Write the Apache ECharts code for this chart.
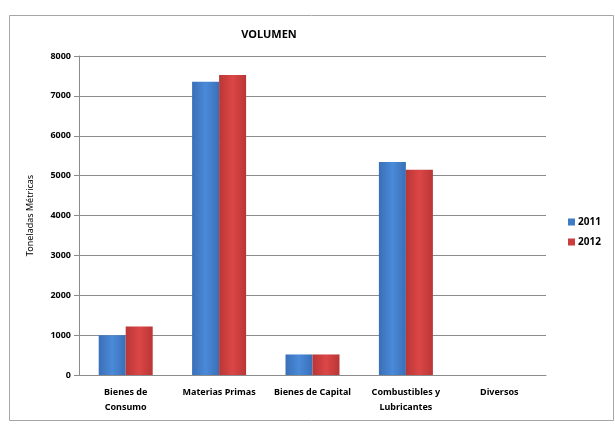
<!DOCTYPE html>
<html>
<head>
<meta charset="utf-8">
<script src="https://cdn.jsdelivr.net/npm/echarts@6/dist/echarts.min.js"></script>
<style>
html, body { margin: 0; padding: 0; background: #fff; }
#res { width: 615px; height: 426px; }
</style>
</head>
<body>
<div id="res"></div>
<script>
// datos
var categorias = ['Bienes de\nConsumo', 'Materias Primas', 'Bienes de Capital', 'Combustibles y\nLubricantes', 'Diversos'];
var v2011 = [1000, 7355, 515, 5340, 0];
var v2012 = [1215, 7525, 515, 5150, 0];
var yTicks = [0, 1000, 2000, 3000, 4000, 5000, 6000, 7000, 8000];

var font = 'Noto Sans';

function grad(a, b) {
    return new echarts.graphic.LinearGradient(0, 0, 1, 0, [
        { offset: 0, color: a },
        { offset: 0.5, color: b },
        { offset: 1, color: a }
    ]);
}

var myChart = echarts.init(document.getElementById('res'));
var option = {
    animation: false,
    graphic: [{
        type: 'rect',
        shape: { x: 9.5, y: 15.5, width: 604, height: 405 },
        style: { fill: 'none', stroke: '#a6a6a6', lineWidth: 1 },
        z: -1
    }],
    title: {
        text: 'VOLUMEN',
        left: 264,
        top: 24,
        textAlign: 'center',
        textStyle: { fontFamily: font, fontSize: 11, fontWeight: 'bold', color: '#000' }
    },
    legend: {
        data: [
            { name: '2011', itemStyle: { color: '#3f7cc8' } },
            { name: '2012', itemStyle: { color: '#cc3e3e' } }
        ],
        orient: 'vertical',
        left: 563,
        top: 212,
        itemWidth: 7,
        itemHeight: 7,
        itemGap: 10,
        icon: 'rect',
        textStyle: { fontFamily: font, fontSize: 10, fontWeight: 'bold', color: '#000', padding: [0, 0, 0, -2] }
    },
    grid: {
        left: 79,
        top: 56,
        width: 467,
        height: 319
    },
    xAxis: {
        type: 'category',
        data: categorias,
        axisLine: { lineStyle: { color: '#8c8c8c' } },
        axisTick: { show: false },
        axisLabel: {
            interval: 0,
            margin: 10,
            lineHeight: 15,
            fontFamily: font,
            fontSize: 9,
            fontWeight: 'bold',
            color: '#000'
        }
    },
    yAxis: {
        type: 'value',
        min: yTicks[0],
        max: yTicks[yTicks.length - 1],
        interval: 1000,
        name: 'Toneladas Métricas',
        nameLocation: 'middle',
        nameGap: 44,
        nameTextStyle: { fontFamily: font, fontSize: 9, color: '#000' },
        axisLine: { show: true, lineStyle: { color: '#8c8c8c' } },
        axisTick: { show: true, length: 5, lineStyle: { color: '#8c8c8c' } },
        splitLine: { lineStyle: { color: '#8c8c8c' } },
        axisLabel: {
            fontFamily: font, fontSize: 9, fontWeight: 'bold', color: '#000', margin: 8,
            formatter: function (v) { return String(v); }
        }
    },
    series: [{
        name: '2011',
        type: 'bar',
        data: v2011,
        barWidth: 27,
        barGap: '0%',
        itemStyle: { color: grad('#3a6fb8', '#4a8ad8') }
    }, {
        name: '2012',
        type: 'bar',
        data: v2012,
        barWidth: 27,
        itemStyle: { color: grad('#b93636', '#dc4646') }
    }]
};
myChart.setOption(option);
</script>
</body>
</html>
